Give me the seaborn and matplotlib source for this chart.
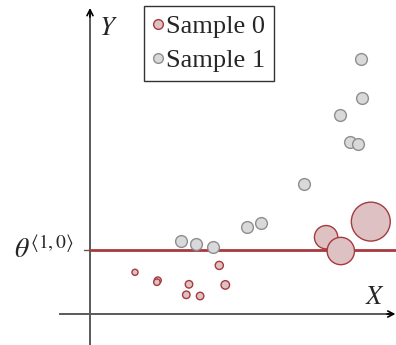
import matplotlib
matplotlib.use("Agg")
import matplotlib.pyplot as plt
from matplotlib.lines import Line2D
import seaborn as sns
import pandas as pd

sns.set_theme(style="white")
plt.rcParams['font.family'] = ['Liberation Serif', 'DejaVu Serif']
plt.rcParams['mathtext.fontset'] = 'stix'

# ---- data (arbitrary units, origin at axes crossing) ----
s0_x = [1.50, 2.26, 2.23, 3.30, 3.21, 3.67, 4.31, 4.51, 7.87, 8.36, 9.36]
s0_y = [1.39, 1.12, 1.06, 0.99, 0.64, 0.60, 1.62, 0.97, 2.56, 2.10, 3.08]
s0_w = [8.4, 10.9, 9.6, 12.9, 12.9, 12.9, 15.2, 16.8, 128, 176, 357]

s1_x = [3.04, 3.52, 4.11, 5.24, 5.70, 7.12, 8.33, 8.67, 8.94, 9.04, 9.08]
s1_y = [2.44, 2.34, 2.24, 2.91, 3.03, 4.32, 6.63, 5.74, 5.66, 8.50, 7.21]

theta = 2.12
series_labels = ["Sample 0", "Sample 1"]
theta_label = r"$\theta^{\langle 1,0\rangle}$"

RED_FILL = "#dec1c2"
RED_EDGE = "#a63a3e"
GRAY_FILL = "#d9d9db"
GRAY_EDGE = "#8e8e8e"
AXIS_COL = "#5a5a5a"

df0 = pd.DataFrame({"x": s0_x, "y": s0_y, "w": s0_w})
df1 = pd.DataFrame({"x": s1_x, "y": s1_y})

fig = plt.figure(figsize=(3.96, 3.45), dpi=100)
ax = fig.add_axes([0, 0, 1, 1])
xlim = (-3.0, 10.2)
ylim = (-1.033, 10.467)
ax.set_xlim(*xlim)
ax.set_ylim(*ylim)
ax.axis("off")

# axes lines with arrows
ax.plot([-1.033, 10.05], [0, 0], color=AXIS_COL, lw=1.4, zorder=1, solid_capstyle="butt")
ax.plot([0, 0], [ylim[0], 10.05], color=AXIS_COL, lw=1.4, zorder=1, solid_capstyle="butt")
ax.annotate("", xy=(10.18, 0), xytext=(9.9, 0),
            arrowprops=dict(arrowstyle="->,head_length=0.35,head_width=0.18", color="black", lw=1.2, shrinkA=0, shrinkB=0))
ax.annotate("", xy=(0, 10.2), xytext=(0, 9.9),
            arrowprops=dict(arrowstyle="->,head_length=0.35,head_width=0.18", color="black", lw=1.2, shrinkA=0, shrinkB=0))

# threshold line and tick
ax.plot([0, xlim[1]], [theta, theta], color=RED_EDGE, lw=2.0, zorder=2)
ax.plot([-0.2, 0], [theta, theta], color=AXIS_COL, lw=1.0, zorder=1)

# scatter
sns.scatterplot(data=df1, x="x", y="y", s=72, color=GRAY_FILL, edgecolor=GRAY_EDGE,
                linewidth=1.0, ax=ax, legend=False, zorder=3)
sns.scatterplot(data=df0, x="x", y="y", size="w",
                sizes=(min(s0_w) * 2.3, max(s0_w) * 2.2),
                color=RED_FILL, edgecolor=RED_EDGE, linewidth=1.0, ax=ax, legend=False, zorder=4)

# labels
ax.text(0.3, 9.5, r"$Y$", fontsize=19, ha="left", va="center")
ax.text(9.85, 0.55, r"$X$", fontsize=19, ha="right", va="center")
ax.text(-0.55, theta, theta_label, fontsize=20, ha="right", va="center")

handles = [
    Line2D([], [], marker="o", ls="", markersize=7, markerfacecolor=RED_FILL,
           markeredgecolor=RED_EDGE, markeredgewidth=1.0),
    Line2D([], [], marker="o", ls="", markersize=7, markerfacecolor=GRAY_FILL,
           markeredgecolor=GRAY_EDGE, markeredgewidth=1.0),
]
leg = ax.legend(handles, series_labels, loc="upper left",
                bbox_to_anchor=(144 / 396, 1 - 6 / 345), borderaxespad=0,
                fontsize=19, frameon=True, fancybox=False, framealpha=1,
                handlelength=0.4, handletextpad=0.12, borderpad=0.33,
                labelspacing=0.4)
leg.get_frame().set_edgecolor("#333333")
leg.get_frame().set_linewidth(1.0)

fig.savefig("out.png", dpi=100)
